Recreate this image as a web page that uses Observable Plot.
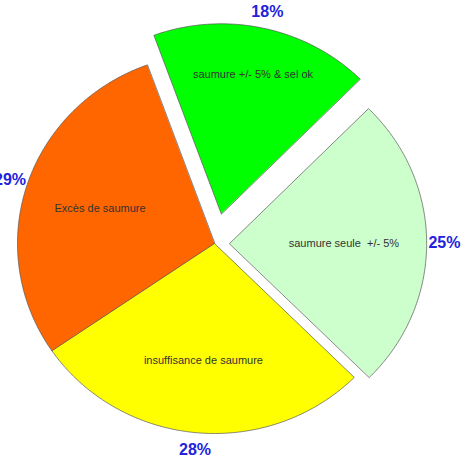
<!DOCTYPE html>
<html>
<head>
<meta charset="utf-8">
<script src="https://cdn.jsdelivr.net/npm/d3@7"></script>
<script src="https://cdn.jsdelivr.net/npm/@observablehq/plot@0.6"></script>
<style>
  html, body { margin: 0; padding: 0; background: #fff; }
  #chart { width: 462px; height: 457px; }
</style>
</head>
<body>
<div id="chart"></div>
<script>
// --- data ---
const categories = ["saumure +/- 5% & sel ok", "saumure seule  +/- 5%", "insuffisance de saumure", "Excès de saumure"];
const percents = [18, 25, 28, 29];
const percentLabels = ["18%", "25%", "28%", "29%"];
const colors = ["#00ff00", "#ccffcc", "#ffff00", "#ff6600"];
// --- style / layout config ---
const explode = [0.16, 0.077, 0, 0];
const innerLabelRadius = [0.75, 0.58, 0.62, 0.61];
const startBearing = -20; // degrees, clockwise from north

const total = d3.sum(percents);
const rad = d => d * Math.PI / 180;
const slices = [];
let acc = startBearing;
percents.forEach((p, i) => {
  const a0 = acc, a1 = acc + p / total * 360;
  acc = a1;
  const mid = (a0 + a1) / 2;
  const ox = explode[i] * Math.sin(rad(mid));
  const oy = explode[i] * Math.cos(rad(mid));
  const pts = [{x: ox, y: oy}];
  const n = Math.ceil((a1 - a0) / 0.5);
  for (let k = 0; k <= n; k++) {
    const b = a0 + (a1 - a0) * k / n;
    pts.push({x: ox + Math.sin(rad(b)), y: oy + Math.cos(rad(b))});
  }
  const s = Math.sin(rad(mid)), c = Math.cos(rad(mid));
  slices.push({
    i, pts, color: colors[i], mid, ox, oy,
    lx: ox + innerLabelRadius[i] * s, ly: oy + innerLabelRadius[i] * c,
    px: ox + 1.09 * s, py: oy + 1.09 * c,
    anchor: s > 0.6 ? "start" : s < -0.6 ? "end" : "middle",
    name: categories[i], pct: percentLabels[i]
  });
});

const W = 462, H = 457, cx = 214, cy = 243, rx = 197, ry = 190;

const marks = [];
slices.forEach(s => {
  marks.push(Plot.line(s.pts, {x: "x", y: "y", fill: s.color, stroke: "#555", strokeWidth: 0.7, curve: "linear-closed"}));
});
marks.push(Plot.text(slices, {x: "lx", y: "ly", text: "name", fill: "#333", fontSize: 11, fontFamily: "Liberation Sans, Arial, sans-serif"}));
marks.push(Plot.text(slices, {x: "px", y: "py", text: "pct", textAnchor: "anchor", fill: "#2222dd", fontSize: 16, fontWeight: "bold", fontFamily: "Liberation Sans, Arial, sans-serif"}));

const chart = Plot.plot({
  width: W, height: H,
  margin: 0,
  style: {background: "#fff", overflow: "visible"},
  x: {domain: [-cx / rx, (W - cx) / rx], range: [0, W], axis: null},
  y: {domain: [-(H - cy) / ry, cy / ry], range: [H, 0], axis: null},
  marks
});
document.getElementById("chart").appendChild(chart);
</script>
</body>
</html>
